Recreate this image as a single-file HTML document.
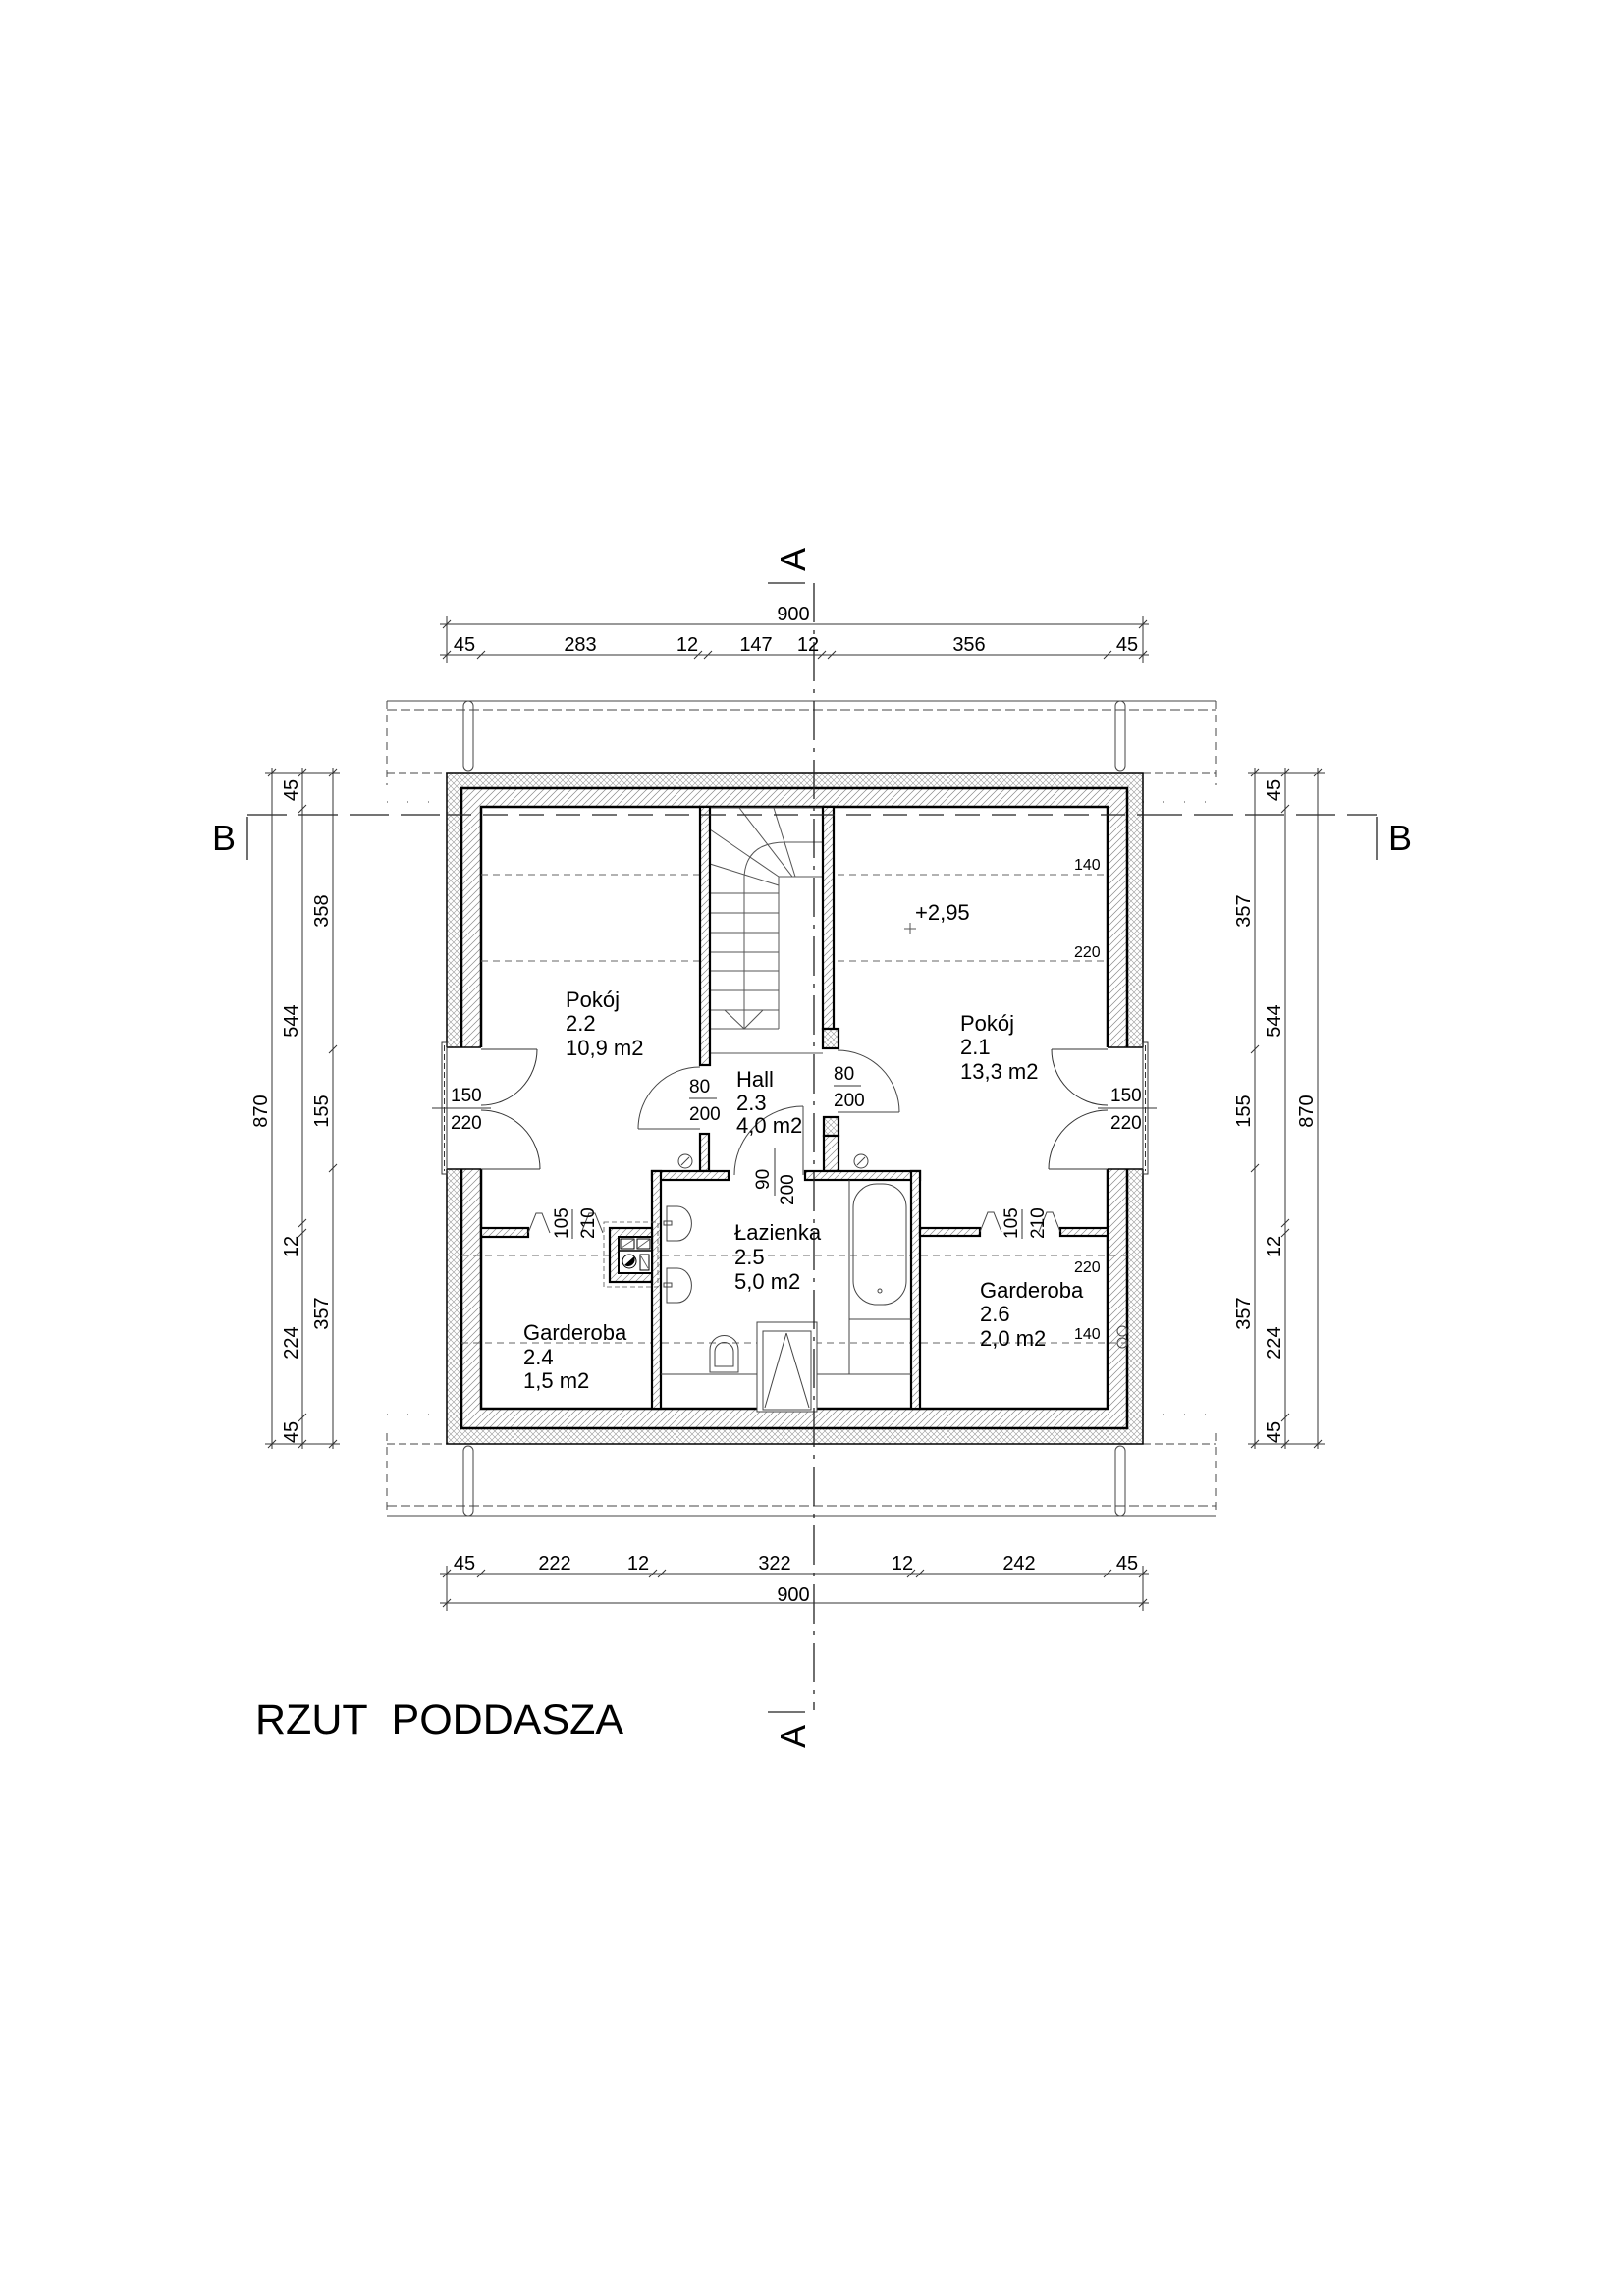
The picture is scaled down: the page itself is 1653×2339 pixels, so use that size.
<!DOCTYPE html>
<html><head><meta charset="utf-8"><style>
html,body{margin:0;padding:0;background:#fff}
svg{display:block}
text{font-family:"Liberation Sans",sans-serif;fill:#000}
</style></head><body>
<svg width="1653" height="2339" viewBox="0 0 1653 2339" xmlns="http://www.w3.org/2000/svg">
<defs>
<pattern id="diag" width="7" height="7" patternUnits="userSpaceOnUse">
<rect width="7" height="7" fill="#fff"/>
<path d="M-1,8 L8,-1 M-1,1 L1,-1 M6,8 L8,6" stroke="#888" stroke-width="0.7"/>
</pattern>
<pattern id="cross" width="6" height="6" patternUnits="userSpaceOnUse">
<rect width="6" height="6" fill="#fff"/>
<path d="M0,0 L6,6 M0,6 L6,0" stroke="#999" stroke-width="0.6"/>
</pattern>
</defs>

<g stroke="#444" stroke-width="1" fill="none">
<line x1="394" y1="714" x2="1238" y2="714"/>
<line x1="394" y1="723" x2="1238" y2="723" stroke-dasharray="10,4"/>
<line x1="394" y1="1534" x2="1238" y2="1534" stroke-dasharray="10,4"/>
<line x1="394" y1="1544" x2="1238" y2="1544"/>
<line x1="394" y1="787" x2="455" y2="787" stroke-dasharray="8,4"/>
<line x1="1164" y1="787" x2="1238" y2="787" stroke-dasharray="8,4"/>
<line x1="394" y1="1471" x2="455" y2="1471" stroke-dasharray="8,4"/>
<line x1="1164" y1="1471" x2="1238" y2="1471" stroke-dasharray="8,4"/>
<line x1="394" y1="817" x2="455" y2="817" stroke-dasharray="1,20"/>
<line x1="1164" y1="817" x2="1238" y2="817" stroke-dasharray="1,20"/>
<line x1="394" y1="1441" x2="455" y2="1441" stroke-dasharray="1,20"/>
<line x1="1164" y1="1441" x2="1238" y2="1441" stroke-dasharray="1,20"/>
<line x1="394" y1="714" x2="394" y2="800" stroke-dasharray="8,6"/>
<line x1="1238" y1="714" x2="1238" y2="800" stroke-dasharray="8,6"/>
<line x1="394" y1="1460" x2="394" y2="1544" stroke-dasharray="8,6"/>
<line x1="1238" y1="1460" x2="1238" y2="1544" stroke-dasharray="8,6"/>
<rect x="472" y="714" width="10" height="71" rx="5"/>
<rect x="1136" y="714" width="10" height="71" rx="5"/>
<rect x="472" y="1473" width="10" height="71" rx="5"/>
<rect x="1136" y="1473" width="10" height="71" rx="5"/>
</g>

<rect x="455" y="787" width="709" height="684" fill="url(#cross)" stroke="#000" stroke-width="1.5"/>
<rect x="470" y="803" width="678" height="652" fill="url(#diag)" stroke="#000" stroke-width="2.5"/>
<rect x="490" y="822" width="638" height="613" fill="#fff" stroke="#000" stroke-width="2.5"/>

<rect x="453" y="1067" width="39" height="124" fill="#fff"/>
<rect x="1126" y="1067" width="40" height="124" fill="#fff"/>
<g stroke="#000" stroke-width="1.5" fill="none">
<line x1="455" y1="1067" x2="490" y2="1067"/><line x1="455" y1="1191" x2="490" y2="1191"/>
<line x1="1128" y1="1067" x2="1164" y2="1067"/><line x1="1128" y1="1191" x2="1164" y2="1191"/>
</g>
<g stroke="#333" stroke-width="1" fill="none">
<rect x="450" y="1062" width="5" height="134"/>
<line x1="452.5" y1="1065" x2="452.5" y2="1193" stroke-dasharray="6,3"/>
<rect x="1164" y="1062" width="5" height="134"/>
<line x1="1166.5" y1="1065" x2="1166.5" y2="1193" stroke-dasharray="6,3"/>
<line x1="440" y1="1129" x2="500" y2="1129"/>
<line x1="1118" y1="1129" x2="1178" y2="1129"/>
<path d="M547,1069 A57,57 0 0 1 490,1126"/>
<path d="M550,1191 A60,60 0 0 0 490,1131"/>
<line x1="490" y1="1069" x2="547" y2="1069"/>
<line x1="490" y1="1191" x2="550" y2="1191"/>
<path d="M1071,1069 A57,57 0 0 0 1128,1126"/>
<path d="M1068,1191 A60,60 0 0 1 1128,1131"/>
<line x1="1071" y1="1069" x2="1128" y2="1069"/>
<line x1="1068" y1="1191" x2="1128" y2="1191"/>
</g>

<g stroke="#666" stroke-width="1" stroke-dasharray="7,5" fill="none">
<line x1="490" y1="891" x2="713" y2="891"/><line x1="490" y1="979" x2="713" y2="979"/>
<line x1="853" y1="891" x2="1128" y2="891"/><line x1="853" y1="979" x2="1128" y2="979"/>
<line x1="470" y1="1279" x2="1148" y2="1279"/>
<line x1="470" y1="1368" x2="1148" y2="1368"/>
</g>

<g stroke="#555" stroke-width="1" fill="none">
<line x1="723" y1="823" x2="838" y2="823"/>
<line x1="793" y1="893" x2="793" y2="1048"/>
<line x1="793" y1="893" x2="838" y2="893"/>
<line x1="758" y1="893" x2="758" y2="1048"/>
<path d="M758,893 Q760,858 800,858 L838,858"/>
<line x1="723" y1="845" x2="793" y2="893"/>
<line x1="723" y1="880" x2="793" y2="902"/>
<line x1="753" y1="823" x2="807" y2="893"/>
<line x1="788" y1="823" x2="810" y2="893"/>
<line x1="723" y1="910" x2="793" y2="910"/><line x1="723" y1="930" x2="793" y2="930"/>
<line x1="723" y1="950" x2="793" y2="950"/><line x1="723" y1="970" x2="793" y2="970"/>
<line x1="723" y1="989" x2="793" y2="989"/><line x1="723" y1="1009" x2="793" y2="1009"/>
<line x1="723" y1="1029" x2="793" y2="1029"/><line x1="723" y1="1048" x2="793" y2="1048"/>
<polyline points="738,1029 758,1048 777,1029"/>
<line x1="723" y1="1073" x2="838" y2="1073"/>
</g>

<g stroke="#000" stroke-width="2.2">
<rect x="713" y="822" width="10" height="263" fill="url(#diag)"/>
<rect x="838" y="822" width="11" height="226" fill="url(#diag)"/>
<rect x="838" y="1048" width="16" height="20" fill="url(#cross)"/>
<rect x="713" y="1155" width="9" height="38" fill="url(#diag)"/>
<rect x="839" y="1138" width="15" height="19" fill="url(#cross)"/>
<rect x="839" y="1157" width="15" height="36" fill="url(#diag)"/>
<rect x="664" y="1193" width="78" height="9" fill="url(#diag)"/>
<rect x="820" y="1193" width="117" height="9" fill="url(#diag)"/>
<rect x="664" y="1193" width="9" height="242" fill="url(#diag)"/>
<rect x="928" y="1193" width="9" height="242" fill="url(#diag)"/>
<rect x="490" y="1251" width="48" height="9" fill="url(#diag)"/>
<rect x="937" y="1251" width="61" height="8" fill="url(#diag)"/>
<rect x="1080" y="1251" width="48" height="8" fill="url(#diag)"/>
<rect x="621" y="1251" width="43" height="55" fill="url(#diag)"/>
</g>
<g fill="url(#diag)">
<rect x="665.5" y="1194.5" width="6" height="9"/>
<rect x="929.5" y="1194.5" width="6" height="9"/>
</g>

<g stroke="#000" fill="#fff">
<rect x="630" y="1260" width="34" height="37" stroke-width="2"/>
<line x1="630" y1="1274" x2="664" y2="1274" stroke-width="1.5"/>
<rect x="632" y="1262" width="14" height="10" stroke-width="1"/>
<rect x="649" y="1262" width="13" height="10" stroke-width="1"/>
<circle cx="641" cy="1285" r="7" stroke-width="1"/>
<rect x="652" y="1278" width="9" height="16" stroke-width="1"/>
</g>
<path d="M636,1289 L646,1280 A7,7 0 0 1 636,1289Z" fill="#000"/>
<g stroke="#555" stroke-width="0.8" fill="none">
<line x1="633" y1="1271" x2="645" y2="1263"/><line x1="650" y1="1271" x2="661" y2="1263"/>
<line x1="653" y1="1280" x2="660" y2="1292"/>
<rect x="615" y="1245" width="55" height="66" stroke-dasharray="5,3"/>
</g>

<g stroke="#444" stroke-width="1" fill="none">
<path d="M713,1087 A63,63 0 0 0 650,1150"/><line x1="650" y1="1150" x2="713" y2="1150"/>
<path d="M853,1070 A63,63 0 0 1 916,1133"/><line x1="853" y1="1133" x2="916" y2="1133"/>
<path d="M748,1197 A70,70 0 0 1 818,1127"/><line x1="818" y1="1127" x2="818" y2="1197"/>
<polyline points="538,1256 546,1236 552,1236 560,1256"/>
<polyline points="592,1256 600,1236 606,1236 614,1256"/>
<polyline points="998,1255 1006,1235 1012,1235 1020,1255"/>
<polyline points="1058,1255 1066,1235 1072,1235 1080,1255"/>
<circle cx="698" cy="1183" r="7"/><line x1="694" y1="1187" x2="702" y2="1179"/>
<circle cx="877" cy="1183" r="7"/><line x1="873" y1="1187" x2="881" y2="1179"/>
<path d="M679,1229 L690,1229 A14,17 0 0 1 690,1264 L679,1264Z"/>
<path d="M679,1292 L690,1292 A14,17 0 0 1 690,1327 L679,1327Z"/>
<rect x="676" y="1244" width="8" height="4"/><rect x="676" y="1307" width="8" height="4"/>
<rect x="869" y="1206" width="54" height="123" rx="24"/>
<circle cx="896" cy="1315" r="2"/>
<line x1="865" y1="1202" x2="865" y2="1400"/>
<line x1="865" y1="1344" x2="928" y2="1344"/>
<line x1="673" y1="1400" x2="928" y2="1400"/>
<path d="M723,1398 L723,1375 A14,14 0 0 1 752,1375 L752,1398Z"/>
<path d="M728,1392 L728,1377 A9,9 0 0 1 747,1377 L747,1392Z"/>
<rect x="771" y="1347" width="61" height="91" fill="#fff"/>
<rect x="777" y="1356" width="49" height="80"/>
<line x1="801" y1="1358" x2="779" y2="1434"/><line x1="801" y1="1358" x2="824" y2="1434"/>
<circle cx="1143" cy="1356" r="5"/><circle cx="1143" cy="1368" r="5"/>
</g>
<line x1="927" y1="940" x2="927" y2="952" stroke="#555" stroke-width="1"/>
<line x1="921" y1="946" x2="933" y2="946" stroke="#555" stroke-width="1"/>

<g stroke="#222" stroke-width="1.3" fill="none">
<line x1="829" y1="594" x2="829" y2="1742" stroke-dasharray="40,8,4,8"/>
<line x1="782" y1="594" x2="820" y2="594"/>
<line x1="782" y1="1744" x2="820" y2="1744"/>
<line x1="252" y1="830" x2="455" y2="830" stroke-dasharray="40,12"/>
<line x1="455" y1="830" x2="1164" y2="830" stroke-dasharray="25,12"/>
<line x1="1164" y1="830" x2="1402" y2="830" stroke-dasharray="40,12"/>
<line x1="252" y1="832" x2="252" y2="876"/>
<line x1="1402" y1="832" x2="1402" y2="876"/>
</g>
<text x="820" y="570" font-size="36" text-anchor="middle" transform="rotate(-90 820 570)">A</text>
<text x="820" y="1769" font-size="36" text-anchor="middle" transform="rotate(-90 820 1769)">A</text>
<text x="216" y="866" font-size="36">B</text>
<text x="1414" y="866" font-size="36">B</text>

<g stroke="#333" stroke-width="1" fill="none">
<line x1="448" y1="636" x2="1170" y2="636"/>
<line x1="448" y1="667" x2="1170" y2="667"/>
<line x1="448" y1="1603" x2="1170" y2="1603"/>
<line x1="448" y1="1633" x2="1170" y2="1633"/>
<path d="M451,640l8,-8 M1160,640l8,-8
M451,671l8,-8 M486,671l8,-8 M707,671l8,-8 M717,671l8,-8 M833,671l8,-8 M843,671l8,-8 M1124,671l8,-8 M1160,671l8,-8
M451,1607l8,-8 M486,1607l8,-8 M661,1607l8,-8 M670,1607l8,-8 M924,1607l8,-8 M933,1607l8,-8 M1124,1607l8,-8 M1160,1607l8,-8
M451,1637l8,-8 M1160,1637l8,-8"/>
<line x1="455" y1="628" x2="455" y2="675"/><line x1="1164" y1="628" x2="1164" y2="675"/>
<line x1="455" y1="1595" x2="455" y2="1641"/><line x1="1164" y1="1595" x2="1164" y2="1641"/>
</g>
<g font-size="20" text-anchor="middle">
<text x="808" y="632">900</text>
<text x="473" y="663">45</text><text x="591" y="663">283</text><text x="700" y="663">12</text>
<text x="770" y="663">147</text><text x="823" y="663">12</text><text x="987" y="663">356</text><text x="1148" y="663">45</text>
<text x="473" y="1599">45</text><text x="565" y="1599">222</text><text x="650" y="1599">12</text>
<text x="789" y="1599">322</text><text x="919" y="1599">12</text><text x="1038" y="1599">242</text><text x="1148" y="1599">45</text>
<text x="808" y="1631">900</text>
</g>

<g stroke="#333" stroke-width="1" fill="none">
<line x1="277" y1="782" x2="277" y2="1476"/><line x1="308" y1="782" x2="308" y2="1476"/><line x1="339" y1="782" x2="339" y2="1476"/>
<line x1="1278" y1="782" x2="1278" y2="1476"/><line x1="1309" y1="782" x2="1309" y2="1476"/><line x1="1342" y1="782" x2="1342" y2="1476"/>
<line x1="270" y1="787" x2="346" y2="787"/><line x1="270" y1="1471" x2="346" y2="1471"/>
<line x1="1271" y1="787" x2="1349" y2="787"/><line x1="1271" y1="1471" x2="1349" y2="1471"/>
<path d="M273,791l8,-8 M273,1475l8,-8 M304,791l8,-8 M304,828l8,-8 M304,1260l8,-8 M304,1250l8,-8 M304,1448l8,-8 M304,1475l8,-8
M335,791l8,-8 M335,1073l8,-8 M335,1194l8,-8 M335,1475l8,-8
M1274,791l8,-8 M1274,1073l8,-8 M1274,1194l8,-8 M1274,1475l8,-8
M1305,791l8,-8 M1305,828l8,-8 M1305,1250l8,-8 M1305,1260l8,-8 M1305,1448l8,-8 M1305,1475l8,-8
M1338,791l8,-8 M1338,1475l8,-8"/>
</g>
<g font-size="20" text-anchor="middle">
<text transform="translate(303,805) rotate(-90)">45</text>
<text transform="translate(334,928) rotate(-90)">358</text>
<text transform="translate(303,1040) rotate(-90)">544</text>
<text transform="translate(272,1132) rotate(-90)">870</text>
<text transform="translate(334,1132) rotate(-90)">155</text>
<text transform="translate(303,1270) rotate(-90)">12</text>
<text transform="translate(334,1338) rotate(-90)">357</text>
<text transform="translate(303,1368) rotate(-90)">224</text>
<text transform="translate(303,1459) rotate(-90)">45</text>
<text transform="translate(1304,805) rotate(-90)">45</text>
<text transform="translate(1273,928) rotate(-90)">357</text>
<text transform="translate(1304,1040) rotate(-90)">544</text>
<text transform="translate(1337,1132) rotate(-90)">870</text>
<text transform="translate(1273,1132) rotate(-90)">155</text>
<text transform="translate(1304,1270) rotate(-90)">12</text>
<text transform="translate(1273,1338) rotate(-90)">357</text>
<text transform="translate(1304,1368) rotate(-90)">224</text>
<text transform="translate(1304,1459) rotate(-90)">45</text>
</g>

<g font-size="22">
<text x="576" y="1026">Pokój</text><text x="576" y="1050">2.2</text><text x="576" y="1075">10,9 m2</text>
<text x="978" y="1050">Pokój</text><text x="978" y="1074">2.1</text><text x="978" y="1099">13,3 m2</text>
<text x="750" y="1107">Hall</text><text x="750" y="1131">2.3</text><text x="750" y="1154">4,0 m2</text>
<text x="748" y="1263">Łazienka</text><text x="748" y="1288">2.5</text><text x="748" y="1313">5,0 m2</text>
<text x="533" y="1365">Garderoba</text><text x="533" y="1390">2.4</text><text x="533" y="1414">1,5 m2</text>
<text x="998" y="1322">Garderoba</text><text x="998" y="1346">2.6</text><text x="998" y="1371">2,0 m2</text>
<text x="932" y="937">+2,95</text>
</g>
<g font-size="19">
<text x="459" y="1122">150</text><text x="459" y="1150">220</text>
<text x="1131" y="1122">150</text><text x="1131" y="1150">220</text>
<text x="702" y="1113">80</text><text x="702" y="1141">200</text>
<text x="849" y="1100">80</text><text x="849" y="1127">200</text>
<text transform="translate(783,1212) rotate(-90)">90</text>
<text transform="translate(808,1228) rotate(-90)">200</text>
<text transform="translate(578,1262) rotate(-90)">105</text>
<text transform="translate(605,1262) rotate(-90)">210</text>
<text transform="translate(1036,1262) rotate(-90)">105</text>
<text transform="translate(1063,1262) rotate(-90)">210</text>
</g>
<g stroke="#333" stroke-width="1">
<line x1="702" y1="1119" x2="730" y2="1119"/>
<line x1="849" y1="1106" x2="877" y2="1106"/>
<line x1="789" y1="1170" x2="789" y2="1218"/>
<line x1="583" y1="1232" x2="583" y2="1262"/>
<line x1="1041" y1="1232" x2="1041" y2="1262"/>
</g>
<g font-size="16">
<text x="1094" y="886">140</text><text x="1094" y="975">220</text>
<text x="1094" y="1296">220</text><text x="1094" y="1364">140</text>
</g>

<text x="260" y="1766" font-size="43">RZUT&#160;&#160;PODDASZA</text>
</svg>
</body></html>
